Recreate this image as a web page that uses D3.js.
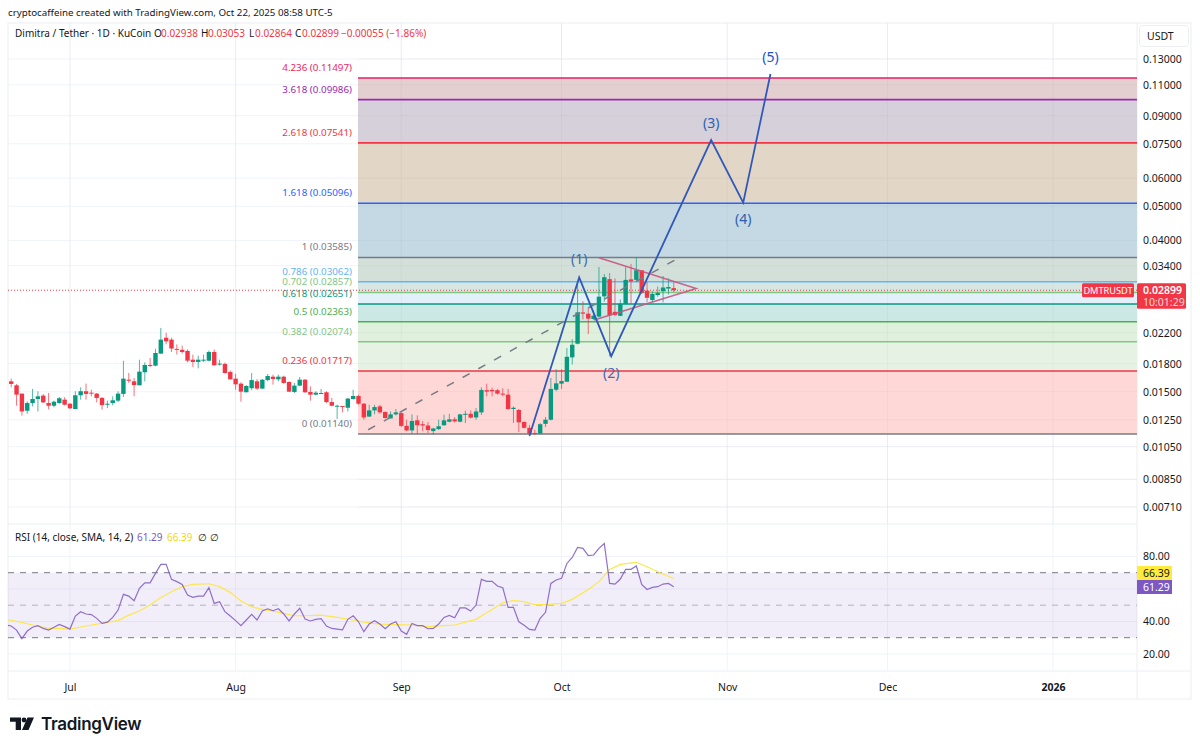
<!DOCTYPE html>
<html><head><meta charset="utf-8">
<script src="https://cdn.jsdelivr.net/npm/d3@7"></script>
<style>
html,body{margin:0;padding:0;background:#fff;width:1200px;height:749px;overflow:hidden}
svg{display:block}
text{font-family:"Noto Sans","Open Sans",sans-serif;font-size:10.5px}
.domain{display:none}
</style></head><body><svg id="c" width="1200" height="749"></svg>
<script>
// ---------- data ----------
const firstCandleOffset = -11; // days from Jul 1 2025
const opens = [.01605,.01564,.01482,.01326,.01394,.01431,.01463,.01394,.0137,.01394,.01425,.01388,.01341,.01466,.01505,.01491,.01482,.01441,.01382,.01394,.01416,.01479,.01622,.01605,.01564,.01702,.01785,.01777,.01921,.0213,.02104,.01982,.01969,.01955,.01847,.0182,.01835,.01835,.01942,.01793,.01797,.01705,.01633,.01581,.01495,.01535,.01605,.01531,.01618,.01654,.01626,.01654,.01598,.01498,.01561,.01622,.01498,.01472,.01485,.01495,.01403,.01367,.01367,.01352,.01431,.01459,
.01388,.01277,.01329,.01364,.01315,.01262,.01295,.01306,.01202,.01167,.01246,.01215,.01205,.01162,.01177,.01207,.01235,.01254,.01235,.01292,.013,.0127,.01312,.01515,.01518,.01515,.01482,.01472,.01341,.01333,.01233,.01187,.01148,.01143,.01218,.01251,.0152,.01581,.01601,.01875,
.02049,.0251,.0249,.02405,.02443,.02785,.03115,.0252,.02455,.0265,.0311,.0310,.0330,.0289,.0272,.0281,.0288,.0293,.02938];
const highs = [.01633,.01578,.01482,.0141,.01528,.01505,.01479,.01488,.01416,.0145,.01447,.01394,.01505,.01544,.01581,.0152,.01488,.0145,.01416,.01456,.01505,.01835,.01694,.0164,.01847,.01816,.01867,.01982,.0227,.022,.0213,.0204,.02024,.01973,.01908,.01896,.01908,.0196,.01973,.01847,.01812,.01724,.01687,.01595,.01567,.01694,.01629,.01629,.01683,.01676,.01676,.01665,.01605,.01588,.01651,.01629,.01554,.01505,.01528,.01505,.01441,.01379,.01367,.01441,.0152,.01472,
.01394,.01379,.01379,.01379,.0132,.0132,.01341,.01312,.01251,.01295,.01287,.01241,.01233,.01187,.01251,.01292,.013,.01273,.013,.01326,.01329,.01349,.01544,.01581,.01541,.01528,.01535,.01528,.01364,.01342,.01238,.0121,.01172,.01224,.01273,.0164,.01737,.01737,.01993,.0211,
.03038,.0270,.0260,.0254,.0337,.0322,.0324,.0313,.0273,.0337,.0344,.0359,.0330,.0306,.0288,.0297,.0318,.0313,.03053];
const lows = [.01544,.0137,.01285,.013,.01364,.0132,.01394,.01338,.01355,.01388,.01373,.01341,.01341,.01425,.01425,.01456,.014,.01335,.01349,.01373,.01403,.0145,.01588,.01456,.01564,.01605,.01761,.01769,.01921,.0204,.01942,.0191,.01921,.01816,.01761,.01746,.0182,.01827,.01777,.01777,.01687,.01622,.0152,.01406,.01495,.01515,.0152,.01528,.01605,.01571,.01605,.01581,.01498,.01488,.01554,.01488,.01416,.01466,.01479,.01394,.01364,.01257,.01312,.0132,.01425,.01379,
.01251,.01273,.01297,.013,.0126,.0126,.01287,.01193,.01162,.0114,.0114,.01162,.01147,.01135,.0117,.01202,.0123,.0123,.0123,.01224,.01262,.01251,.0129,.01456,.01456,.01472,.01456,.01335,.01225,.01155,.01182,.01123,.01135,.0114,.01193,.01245,.01505,.01528,.01597,.0179,
.0204,.0240,.0218,.0239,.0243,.0269,.01886,.0245,.0245,.0265,.0265,.0307,.0283,.0268,.0268,.0278,.0268,.0282,.02864];
const closes = [.01578,.01472,.0132,.01394,.01431,.01456,.014,.0137,.01406,.01438,.01379,.01347,.01466,.01505,.01479,.01488,.01441,.01376,.01388,.01419,.01482,.01633,.01611,.01567,.01709,.01785,.01773,.01929,.02104,.0208,.01986,.01969,.01942,.01835,.0182,.01847,.01847,.01942,.01781,.01801,.01694,.01626,.01574,.01501,.01557,.01618,.01531,.01622,.01661,.01629,.01654,.01588,.01501,.01561,.01622,.01495,.01472,.01491,.01488,.01403,.0137,.0137,.01361,.01435,.01459,.01388,
.0127,.01329,.01358,.01312,.01265,.01295,.01312,.01202,.01167,.01241,.01207,.01205,.0117,.01182,.01199,.01246,.01254,.01238,.01295,.013,.01268,.0132,.01518,.01501,.01505,.01482,.01472,.01341,.01352,.0123,.01187,.01143,.0114,.01215,.01251,.01528,.01584,.01608,.01882,.02035,
.02511,.0249,.0241,.02458,.0278,.03155,.02465,.0247,.02655,.0310,.0307,.0330,.0285,.0276,.0283,.0285,.0295,.0296,.02899];

const rsiStartOffset = -12;
const rsiValues = [37.8,37.2,34.7,29.4,34.1,36.4,37.4,35.7,34.7,36.4,38.2,36.8,35.3,43.3,46,44.6,44.2,41.9,38.8,39.6,42.5,47,56.7,55.6,52.8,60.4,63.8,63.8,69.6,75.1,75.1,65.9,64.5,62.8,56.3,54.8,55.6,55.6,60.8,51.1,52.2,46,43.3,40.5,37.4,40.9,44.4,40.9,46.4,47.8,46.6,47.8,44.6,40.3,44.6,48.1,41.5,40.3,41.3,41.7,37.2,35.7,35.3,34.9,41.3,
43.5,39.8,33.7,38.4,40.5,38.4,35.5,38.4,39.8,34.1,32.1,38.8,37.4,37.4,35.5,35.7,38.4,42.5,43.7,42.3,48.3,48.3,46.4,50.1,65.9,64.7,64.7,61.8,60.8,48.7,48.7,39.8,37.6,35.1,34.7,41.9,45.6,63.4,65.5,66.5,75.7,79.4,85.6,85,80.5,80.9,85,88,63.4,63,66.1,72.1,72.1,74.1,62.8,59.7,61,61.4,63,63.4,61.29];
const maDays = [-12,-9,-7,-4,-2,0,3,6,9,11,13,15,17,19,21,23,26,28,30,32,34,36,38,40,42,44,47,50,53,55,58,61,64,67,70,72,74,76,77,79,81,83,85,87,89,92,94,97,99,101,103,106,108,110,113];
const maValues = [41.3,39.4,37.8,35.7,35.7,35.3,37.2,39,40.5,43.9,46.4,50.1,54.8,58.3,61.4,62.8,63.2,61.4,57.9,52.6,49.1,47.4,46.4,45,43.5,43.5,43.9,42.5,40.9,39.6,38.4,38,37.8,36.8,37.4,37.8,39.6,41.3,43.3,47.4,51.5,52.8,52.2,50.3,50.3,51.1,53.6,59.7,64.5,72,75.1,76.4,73.7,70.6,66.39];

const fibRatios = ["0","0.236","0.382","0.5","0.618","0.702","0.786","1","1.618","2.618","3.618","4.236"];
const fibPrices = [.01140,.01717,.02074,.02363,.02651,.02857,.03062,.03585,.05096,.07541,.09986,.11497];
const fibColors = ["#787b86","#f23645","#81c784","#4caf50","#089981","#81c784","#64b5f6","#787b86","#2962ff","#f23645","#9c27b0","#e91e63"];
const fibFills = ["#fdd8d7","#e6f3e4","#dff0dc","#cbe8e4","#e2f0fa","#d7e6e0","#d3e0da","#c4d9e4","#e2d6c6","#d5d0da","#e3cfd0"];

const waveDays = [86,95.3,101.3,120,126,131.1];
const wavePrices = [.01128,.0315,.0189,.0768,.0512,.1179];
const waveLabels = [null,"(1)","(2)","(3)","(4)","(5)"];
const waveLabelColors = [null,"#3f6aa8","#3f6aa8","#2f5fb0","#2f5fb0","#1e53c5"];
const trendDays = [55.8,114];
const trendPrices = [.01172,.0358];
const triangleDays = [99,117.2,98.1];
const trianglePrices = [.0358,.0293,.0239];

const priceTicks = [.13,.11,.09,.075,.06,.05,.04,.034,.022,.018,.015,.0125,.0105,.0085,.0071];
const rsiTicks = [80,40,20];
const rsiGrid = [80,60,40,20];
const rsiBands = [70,50,30];
const monthDates = ["2025-07-01","2025-08-01","2025-09-01","2025-10-01","2025-11-01","2025-12-01","2026-01-01"];
const monthLabels = ["Jul","Aug","Sep","Oct","Nov","Dec","2026"];

// ---------- layout ----------
const L=8,R=1137,T=23,B1=524,B2=671,B3=699,E=1191;
const DAY=864e5, base=Date.UTC(2025,6,1);
const date=d=>new Date(base+d*DAY);
const x=d3.scaleUtc().domain([date(-11.6),date(199.7)]).range([L,R]);
const y=d3.scaleLog().domain([.0071,.13]).range([507,59]);
const r=d3.scaleLinear().domain([30,70]).range([637.7,572.7]);
const svg=d3.select("#c");
const GREEN="#089981",RED="#f23645",INK="#131722",GRID="#f0f3fa";

// header
svg.append("text").attr("x",8).attr("y",16).attr("fill",INK).style("font-size","9.75px").text("cryptocaffeine created with TradingView.com, Oct 22, 2025 08:58 UTC-5");
// frame
const g=svg.append("g");
g.append("rect").attr("x",L).attr("y",T).attr("width",E-L).attr("height",B3-T).attr("fill","#fff").attr("stroke","#eceef2");
[[L,B1,R,B1],[L,B2,E,B2],[R,T,R,B3]].forEach(a=>g.append("line").attr("x1",a[0]).attr("y1",a[1]).attr("x2",a[2]).attr("y2",a[3]).attr("stroke","#eceef2"));

// grids
const months=monthDates.map(s=>new Date(s+"T00:00:00Z"));
const defs=svg.append("defs");
defs.append("clipPath").attr("id","p1").append("rect").attr("x",L).attr("y",T).attr("width",R-L).attr("height",B1-T);
defs.append("clipPath").attr("id","p2").append("rect").attr("x",L).attr("y",B1).attr("width",R-L).attr("height",B2-B1);
months.forEach(m=>g.append("line").attr("x1",x(m)).attr("x2",x(m)).attr("y1",T).attr("y2",B2).attr("stroke",GRID));
const gridP=g.append("g");
priceTicks.forEach(p=>gridP.append("line").attr("x1",L).attr("x2",R).attr("y1",y(p)).attr("y2",y(p)).attr("stroke",GRID));
rsiGrid.forEach(v=>gridP.append("line").attr("x1",L).attr("x2",R).attr("y1",r(v)).attr("y2",r(v)).attr("stroke",GRID));

// fib
const p1=svg.append("g").attr("clip-path","url(#p1)");
const fx0=358;
fibFills.forEach((c,i)=>p1.append("rect").attr("x",fx0).attr("width",R-fx0).attr("y",y(fibPrices[i+1])).attr("height",y(fibPrices[i])-y(fibPrices[i+1])).attr("fill",c));
months.forEach(m=>p1.append("line").attr("x1",x(m)).attr("x2",x(m)).attr("y1",T).attr("y2",B1).attr("stroke","#000").attr("stroke-opacity",.03));
priceTicks.forEach(p=>p1.append("line").attr("x1",fx0).attr("x2",R).attr("y1",y(p)).attr("y2",y(p)).attr("stroke","#000").attr("stroke-opacity",.03));
fibPrices.forEach((p,i)=>{
  p1.append("line").attr("x1",fx0).attr("x2",R).attr("y1",y(p)).attr("y2",y(p)).attr("stroke",fibColors[i]).attr("stroke-width",1.6);
  p1.append("text").attr("x",352).attr("y",y(p)-7).attr("text-anchor","end").attr("fill",fibColors[i]).style("font-size","9.8px").text(fibRatios[i]+" ("+p.toFixed(5)+")");
});

// price line
p1.append("line").attr("x1",L).attr("x2",R).attr("y1",y(closes[closes.length-1])).attr("y2",y(closes[closes.length-1])).attr("stroke",RED).attr("stroke-dasharray","1 2");

// candles
const idx=d3.range(opens.length);
const cg=p1.append("g");
cg.selectAll("line").data(idx).join("line")
 .attr("x1",i=>x(date(firstCandleOffset+i))).attr("x2",i=>x(date(firstCandleOffset+i)))
 .attr("y1",i=>y(highs[i])).attr("y2",i=>y(lows[i]))
 .attr("stroke",i=>closes[i]>=opens[i]?GREEN:RED).attr("stroke-opacity",.7);
cg.selectAll("rect").data(idx).join("rect")
 .attr("x",i=>x(date(firstCandleOffset+i))-2.2).attr("width",4.4)
 .attr("y",i=>y(Math.max(opens[i],closes[i])))
 .attr("height",i=>Math.max(1,Math.abs(y(opens[i])-y(closes[i]))))
 .attr("fill",i=>closes[i]>=opens[i]?GREEN:RED);

// trend, triangle, wave
const ln=d3.line().x(d=>x(date(d[0]))).y(d=>y(d[1]));
p1.append("path").attr("d",ln(trendDays.map((d,i)=>[d,trendPrices[i]]))).attr("fill","none").attr("stroke","#787b86").attr("stroke-width",1.5).attr("stroke-dasharray","8 10");
p1.append("path").attr("d",ln(triangleDays.map((d,i)=>[d,trianglePrices[i]]))).attr("fill","none").attr("stroke","#c9557f").attr("stroke-width",1.5).attr("stroke-opacity",.9);
p1.append("path").attr("d",ln(waveDays.map((d,i)=>[d,wavePrices[i]]))).attr("fill","none").attr("stroke","#3058b8").attr("stroke-width",1.8);
const waveOff=[0,-13,22,-12,21,-12];
waveLabels.forEach((t,i)=>{ if(!t)return;
  p1.append("text").attr("x",x(date(waveDays[i]))).attr("y",y(wavePrices[i])+waveOff[i]).attr("text-anchor","middle").attr("fill",waveLabelColors[i]).style("font-size","14px").text(t);
});

// legend
const legendParts=[["Dimitra / Tether · 1D · KuCoin",15,INK],["O",154,INK],["0.02938",161,RED],["H",201,INK],["0.03053",208,RED],["L",249,INK],["0.02864",255,RED],["C",295,INK],["0.02899",302,RED],["−0.00055 (−1.86%)",341,RED]];
legendParts.forEach(a=>svg.append("text").attr("x",a[1]).attr("y",37).attr("fill",a[2]).style("font-size","10px").text(a[0]));

// RSI pane
const p2=svg.append("g").attr("clip-path","url(#p2)");
p2.append("rect").attr("x",L).attr("width",R-L).attr("y",r(70)).attr("height",r(30)-r(70)).attr("fill","#7e57c2").attr("fill-opacity",.1);
rsiBands.forEach((v,i)=>p2.append("line").attr("x1",L).attr("x2",R).attr("y1",r(v)).attr("y2",r(v)).attr("stroke","#787b86").attr("stroke-dasharray","6 6").attr("stroke-opacity",i==1?.5:1));
p2.append("path").attr("d",d3.line().x(d=>x(date(d[0]))).y(d=>r(d[1]))(maDays.map((d,i)=>[d,maValues[i]]))).attr("fill","none").attr("stroke","#fde74c").attr("stroke-width",1.2);
p2.append("path").attr("d",d3.line().x((v,i)=>x(date(rsiStartOffset+i))).y(v=>r(v))(rsiValues)).attr("fill","none").attr("stroke","#7e57c2").attr("stroke-width",1.2).attr("stroke-opacity",.85);
const rsiParts=[["RSI (14, close, SMA, 14, 2)",15,INK],["61.29",137,"#7e57c2"],["66.39",167,"#f5d90a"],["∅",198,INK],["∅",210,INK]];
rsiParts.forEach(a=>svg.append("text").attr("x",a[1]).attr("y",541).attr("fill",a[2]).style("font-size","10px").text(a[0]));

// axes
const ay=svg.append("g").attr("transform",`translate(${R},0)`).call(d3.axisRight(y).tickValues(priceTicks).tickFormat(d3.format(".5f")).tickSize(0).tickPadding(6));
const ar=svg.append("g").attr("transform",`translate(${R},0)`).call(d3.axisRight(r).tickValues(rsiTicks).tickFormat(d3.format(".2f")).tickSize(0).tickPadding(6));
const ax=svg.append("g").attr("transform",`translate(0,${B2})`).call(d3.axisBottom(x).tickValues(months).tickFormat((d,i)=>monthLabels[i]).tickSize(0).tickPadding(13));
[ay,ar,ax].forEach(a=>a.selectAll("text").attr("fill",INK).style("font-size","10.5px"));
ax.selectAll("text").filter((d,i)=>i==6).style("font-weight",700);

// USDT button
svg.append("rect").attr("x",1139.5).attr("y",25.5).attr("width",49).attr("height",21).attr("rx",3).attr("fill","#fff").attr("stroke","#eceef2");
svg.append("text").attr("x",1147).attr("y",40).attr("fill",INK).text("USDT");

// last price tags
const py=y(closes[closes.length-1]);
svg.append("rect").attr("x",1082).attr("y",py-7).attr("width",52).attr("height",14).attr("rx",1.5).attr("fill",RED);
svg.append("text").attr("x",1108).attr("y",py+3.5).attr("text-anchor","middle").attr("fill","#fff").style("font-size","9.2px").text("DMTRUSDT");
svg.append("rect").attr("x",R).attr("y",py-7).attr("width",49).attr("height",25.5).attr("rx",1.5).attr("fill",RED);
svg.append("text").attr("x",1143).attr("y",py+3.5).attr("fill","#fff").style("font-weight",600).text("0.02899");
svg.append("text").attr("x",1143).attr("y",py+15.5).attr("fill","#fff").attr("fill-opacity",.8).text("10:01:29");

// RSI tags (stacked so they do not hide each other)
svg.append("rect").attr("x",R).attr("y",566).attr("width",35).attr("height",14).attr("fill","#ffeb3b");
svg.append("text").attr("x",1143).attr("y",576.8).attr("fill",INK).text(d3.format(".2f")(maValues[maValues.length-1]));
svg.append("rect").attr("x",R).attr("y",580).attr("width",35).attr("height",14).attr("fill","#7e57c2");
svg.append("text").attr("x",1143).attr("y",590.8).attr("fill","#fff").text(d3.format(".2f")(rsiValues[rsiValues.length-1]));

// logo
const lgo=svg.append("g").attr("fill","#131722");
lgo.append("path").attr("d","M10 717.5H21V730H15.7V721.8H10Z");
lgo.append("circle").attr("cx",24).attr("cy",720).attr("r",2.4);
lgo.append("path").attr("d","M27.5 717.5H34L28.5 730H22Z");
svg.append("text").attr("x",41).attr("y",730).attr("fill","#131722").style("font-family","Inter").style("font-size","17px").style("font-weight",600).style("letter-spacing","-.3px").text("TradingView");
</script></body></html>
